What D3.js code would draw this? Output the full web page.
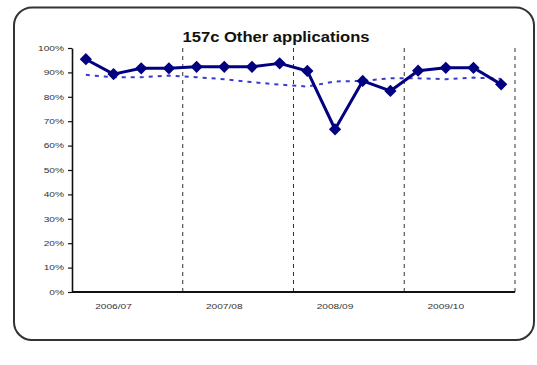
<!DOCTYPE html>
<html><head><meta charset="utf-8">
<script src="https://cdn.jsdelivr.net/npm/d3@7"></script>
<style>html,body{margin:0;padding:0;background:#fff;}svg{display:block;}</style>
</head><body>
<script>
const title = "157c Other applications";
const quarters = ["2006Q1","2006Q2","2006Q3","2006Q4","2007Q1","2007Q2","2007Q3","2007Q4","2008Q1","2008Q2","2008Q3","2008Q4","2009Q1","2009Q2","2009Q3","2009Q4"];
const yearLabels = ["2006/07","2007/08","2008/09","2009/10"];
const yearLabelQuarter = ["2006Q2","2007Q2","2008Q2","2009Q2"];
const yearBoundaries = ["2006Q4","2007Q4","2008Q4","2009Q4"];
const values = [95.4,89.3,91.7,91.7,92.3,92.3,92.3,93.7,90.6,66.7,86.5,82.4,90.7,91.9,91.9,85.1];
const trend = [89.0,88.0,88.0,88.7,88.0,87.2,86.0,85.0,84.2,86.3,86.5,87.6,87.6,87.2,87.9,87.3];
const yTicks = [0,10,20,30,40,50,60,70,80,90,100];

const W=537,H=365;
const svg=d3.select("body").append("svg").attr("width",W).attr("height",H);
svg.append("rect").attr("x",14).attr("y",7.5).attr("width",520).attr("height",332.5)
  .attr("rx",18).attr("ry",18).attr("fill","#fff").attr("stroke","#333").attr("stroke-width",2);

const x=d3.scaleBand().domain(quarters).range([72,515]).padding(0);
const y=d3.scaleLinear().domain([0,100]).range([292,48]);
const cx=q=>x(q)+x.bandwidth()/2;

// vertical dashed separators
svg.append("g").selectAll("line").data(yearBoundaries).join("line")
  .attr("x1",d=>x(d)+x.bandwidth()).attr("x2",d=>x(d)+x.bandwidth())
  .attr("y1",y(100)).attr("y2",y(0))
  .attr("stroke","#333").attr("stroke-width",1).attr("stroke-dasharray","4,4");

// y axis
const yg=svg.append("g").attr("transform","translate(72,0)")
  .call(d3.axisLeft(y).tickValues(yTicks).tickSize(4).tickSizeOuter(0).tickFormat(d=>d+"%"));
yg.select(".domain").attr("stroke","#111").attr("stroke-width",1.6);
yg.selectAll(".tick line").attr("stroke","#111").attr("stroke-width",1.2);
yg.selectAll(".tick text").attr("font-family","Arial, 'Liberation Sans', sans-serif")
  .attr("font-size",7).attr("fill","#333").attr("x",-8).attr("dy","0.32em")
  .each(function(){const l=this.getComputedTextLength();d3.select(this).attr("textLength",l*1.45).attr("lengthAdjust","spacingAndGlyphs");});

// x axis line
svg.append("line").attr("x1",72).attr("x2",515).attr("y1",y(0)).attr("y2",y(0))
  .attr("stroke","#111").attr("stroke-width",1.8);

// x labels
svg.append("g").selectAll("text").data(yearLabels).join("text")
  .attr("x",(d,i)=>cx(yearLabelQuarter[i])).attr("y",309)
  .attr("text-anchor","middle").attr("font-family","Arial, 'Liberation Sans', sans-serif")
  .attr("font-size",7).attr("fill","#333").text(d=>d)
  .each(function(){const l=this.getComputedTextLength();d3.select(this).attr("textLength",l*1.45).attr("lengthAdjust","spacingAndGlyphs");});

// trend dashed line
svg.append("path").datum(trend)
  .attr("d",d3.line().x((d,i)=>cx(quarters[i])).y(d=>y(d)))
  .attr("fill","none").attr("stroke","#3a3ad0").attr("stroke-width",2).attr("stroke-dasharray","4,5");

// main line
svg.append("path").datum(values)
  .attr("d",d3.line().x((d,i)=>cx(quarters[i])).y(d=>y(d)))
  .attr("fill","none").attr("stroke","#000080").attr("stroke-width",3).attr("stroke-linejoin","round");

svg.append("g").selectAll("path").data(values).join("path")
  .attr("d",d3.symbol().type(d3.symbolSquare).size(75))
  .attr("transform",(d,i)=>`translate(${cx(quarters[i])},${y(d)}) rotate(45)`)
  .attr("fill","#000080");

// title
svg.append("text").attr("x",276).attr("y",42).attr("text-anchor","middle")
  .attr("font-family","Arial, 'Liberation Sans', sans-serif").attr("font-weight","bold")
  .attr("font-size",14.5).attr("fill","#111").text(title)
  .attr("textLength",187).attr("lengthAdjust","spacingAndGlyphs");
</script>
</body></html>
